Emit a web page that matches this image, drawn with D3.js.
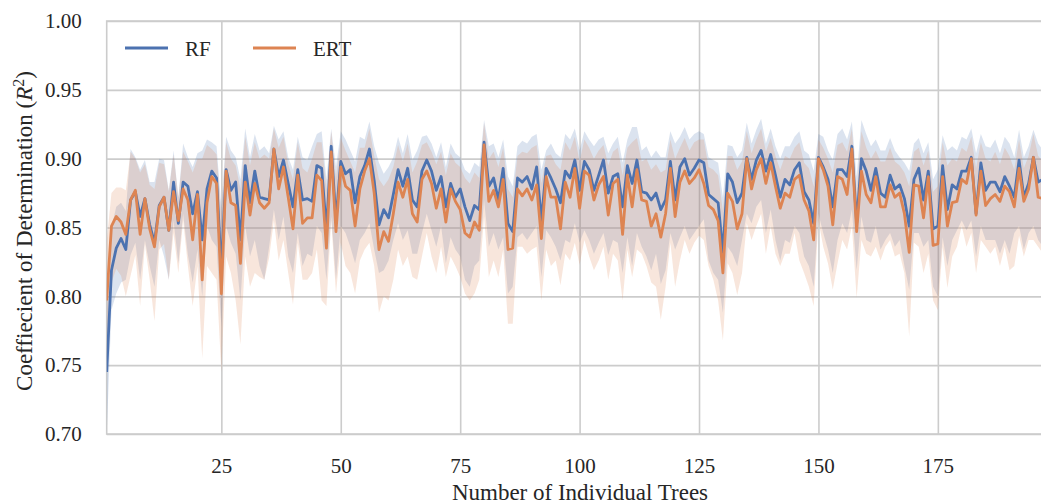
<!DOCTYPE html>
<html>
<head>
  <title>RF vs ERT</title>
  <style>
    body { margin: 0; background: #fff; }
    text { font-family: "Liberation Serif", "Times New Roman", serif; fill: #262626; }
  </style>
</head>
<body>
  <script src="https://d3js.org/d3.v7.min.js"></script>
  <script>
    // Mean R^2 per number of trees
    var rfMean = [0.745,0.819,0.835,0.842,0.834,0.870,0.876,0.858,0.871,0.852, 0.839,0.866,0.872,0.848,0.883,0.853,0.883,0.880,0.860,0.876,
      0.841,0.878,0.891,0.886,0.818,0.892,0.877,0.883,0.841,0.895, 0.868,0.891,0.872,0.871,0.870,0.907,0.887,0.899,0.882,0.865,
      0.892,0.870,0.871,0.869,0.895,0.893,0.848,0.909,0.855,0.898, 0.889,0.892,0.868,0.887,0.895,0.907,0.884,0.852,0.863,0.857,
      0.874,0.892,0.880,0.893,0.870,0.865,0.891,0.899,0.891,0.877, 0.887,0.865,0.882,0.872,0.878,0.865,0.855,0.866,0.863,0.912,
      0.880,0.886,0.870,0.893,0.853,0.847,0.886,0.883,0.887,0.878, 0.894,0.855,0.893,0.886,0.878,0.868,0.891,0.886,0.899,0.877,
      0.898,0.892,0.877,0.888,0.899,0.875,0.887,0.889,0.865,0.895, 0.882,0.899,0.876,0.875,0.870,0.875,0.863,0.870,0.898,0.870,
      0.894,0.900,0.888,0.893,0.899,0.897,0.874,0.871,0.868,0.832, 0.889,0.883,0.868,0.875,0.901,0.885,0.899,0.906,0.891,0.903,
      0.888,0.872,0.885,0.881,0.892,0.897,0.876,0.870,0.853,0.901, 0.894,0.885,0.865,0.892,0.892,0.887,0.909,0.853,0.900,0.891,
      0.877,0.893,0.875,0.872,0.888,0.878,0.881,0.871,0.851,0.885, 0.893,0.870,0.891,0.849,0.851,0.895,0.863,0.881,0.878,0.891,
      0.891,0.901,0.860,0.897,0.877,0.883,0.883,0.876,0.887,0.880, 0.872,0.899,0.872,0.882,0.901,0.883,0.885];

    var ertMean = [0.797,0.851,0.858,0.854,0.845,0.870,0.877,0.845,0.871,0.849, 0.836,0.865,0.872,0.848,0.876,0.855,0.878,0.870,0.841,0.874,
      0.812,0.868,0.887,0.882,0.802,0.891,0.868,0.866,0.824,0.883, 0.859,0.882,0.868,0.864,0.868,0.907,0.878,0.894,0.872,0.849,
      0.888,0.853,0.857,0.857,0.888,0.884,0.835,0.905,0.847,0.894, 0.880,0.877,0.851,0.878,0.891,0.900,0.875,0.834,0.847,0.840,
      0.860,0.883,0.872,0.885,0.860,0.854,0.885,0.891,0.882,0.864, 0.878,0.854,0.878,0.869,0.863,0.846,0.843,0.854,0.848,0.910,
      0.869,0.877,0.865,0.885,0.834,0.835,0.878,0.873,0.878,0.870, 0.881,0.842,0.887,0.872,0.872,0.849,0.883,0.872,0.893,0.864,
      0.891,0.888,0.870,0.881,0.887,0.859,0.882,0.885,0.845,0.888, 0.865,0.892,0.870,0.869,0.851,0.860,0.843,0.860,0.893,0.858,
      0.883,0.891,0.882,0.886,0.892,0.882,0.866,0.863,0.855,0.817, 0.875,0.869,0.849,0.860,0.900,0.878,0.892,0.900,0.882,0.897,
      0.880,0.864,0.875,0.872,0.885,0.888,0.870,0.862,0.841,0.900, 0.892,0.880,0.852,0.887,0.885,0.874,0.907,0.847,0.891,0.874,
      0.868,0.887,0.865,0.865,0.881,0.872,0.875,0.860,0.832,0.881, 0.880,0.857,0.887,0.837,0.838,0.887,0.851,0.868,0.869,0.885,
      0.882,0.900,0.859,0.891,0.866,0.871,0.874,0.869,0.880,0.876, 0.865,0.893,0.869,0.878,0.901,0.872,0.871];

    // Upper / lower edges of the shaded intervals
    var rfHi = [0.785,0.850,0.865,0.868,0.862,0.907,0.901,0.892,0.899,0.883, 0.883,0.900,0.899,0.877,0.906,0.872,0.911,0.901,0.894,0.904,
      0.906,0.914,0.912,0.909,0.865,0.916,0.906,0.901,0.885,0.922, 0.901,0.918,0.906,0.909,0.904,0.924,0.914,0.920,0.901,0.892,
      0.916,0.901,0.899,0.909,0.918,0.920,0.885,0.922,0.894,0.920, 0.914,0.906,0.898,0.916,0.914,0.927,0.909,0.897,0.889,0.894,
      0.901,0.916,0.904,0.918,0.899,0.906,0.916,0.917,0.911,0.901, 0.912,0.894,0.911,0.904,0.901,0.892,0.889,0.897,0.894,0.928,
      0.909,0.911,0.901,0.914,0.887,0.880,0.909,0.913,0.911,0.916, 0.918,0.892,0.906,0.911,0.904,0.901,0.918,0.914,0.922,0.906,
      0.920,0.914,0.909,0.914,0.916,0.904,0.911,0.916,0.897,0.914, 0.923,0.923,0.906,0.909,0.901,0.906,0.901,0.901,0.920,0.911,
      0.916,0.923,0.914,0.918,0.920,0.918,0.901,0.899,0.897,0.872, 0.910,0.909,0.901,0.906,0.926,0.911,0.921,0.929,0.911,0.922,
      0.909,0.900,0.909,0.909,0.916,0.920,0.906,0.903,0.891,0.918, 0.916,0.906,0.899,0.918,0.922,0.914,0.927,0.887,0.928,0.918,
      0.909,0.914,0.906,0.906,0.915,0.906,0.901,0.897,0.891,0.911, 0.915,0.904,0.912,0.885,0.892,0.917,0.906,0.909,0.906,0.916,
      0.914,0.922,0.904,0.918,0.909,0.908,0.914,0.904,0.916,0.911, 0.901,0.921,0.901,0.909,0.921,0.911,0.906];

    var rfLo = [0.700,0.790,0.802,0.810,0.812,0.830,0.839,0.812,0.841,0.822, 0.807,0.841,0.829,0.812,0.855,0.824,0.860,0.830,0.810,0.834,
      0.800,0.851,0.841,0.836,0.778,0.851,0.839,0.831,0.797,0.851, 0.829,0.841,0.822,0.812,0.836,0.863,0.841,0.858,0.829,0.817,
      0.846,0.822,0.831,0.829,0.851,0.846,0.812,0.858,0.812,0.851, 0.846,0.836,0.824,0.841,0.846,0.853,0.834,0.817,0.819,0.826,
      0.841,0.853,0.841,0.848,0.831,0.831,0.846,0.860,0.848,0.836, 0.851,0.824,0.843,0.834,0.829,0.812,0.807,0.822,0.826,0.870,
      0.836,0.846,0.834,0.843,0.802,0.807,0.843,0.846,0.841,0.846, 0.851,0.814,0.848,0.843,0.836,0.826,0.841,0.839,0.853,0.839,
      0.848,0.841,0.831,0.839,0.846,0.830,0.841,0.839,0.817,0.843, 0.822,0.846,0.836,0.829,0.819,0.831,0.809,0.819,0.846,0.834,
      0.843,0.851,0.841,0.846,0.851,0.856,0.826,0.817,0.812,0.788, 0.836,0.831,0.822,0.841,0.860,0.853,0.865,0.870,0.846,0.863,
      0.841,0.826,0.841,0.839,0.851,0.846,0.829,0.822,0.807,0.860, 0.846,0.834,0.817,0.841,0.853,0.846,0.863,0.819,0.858,0.841,
      0.839,0.851,0.834,0.841,0.846,0.836,0.841,0.822,0.805,0.846, 0.846,0.836,0.841,0.807,0.800,0.843,0.822,0.841,0.848,0.855,
      0.848,0.855,0.829,0.851,0.841,0.841,0.841,0.831,0.841,0.831, 0.846,0.851,0.834,0.846,0.851,0.841,0.836];

    var ertHi = [0.840,0.875,0.879,0.879,0.877,0.905,0.900,0.890,0.896,0.881, 0.878,0.897,0.896,0.876,0.903,0.872,0.905,0.898,0.890,0.900,
      0.900,0.910,0.907,0.903,0.860,0.912,0.900,0.895,0.878,0.916, 0.895,0.912,0.900,0.903,0.900,0.922,0.908,0.916,0.896,0.885,
      0.912,0.893,0.890,0.900,0.912,0.912,0.878,0.920,0.886,0.915, 0.906,0.898,0.890,0.908,0.908,0.922,0.902,0.885,0.880,0.885,
      0.894,0.910,0.898,0.911,0.890,0.898,0.910,0.912,0.905,0.896, 0.905,0.888,0.904,0.897,0.894,0.886,0.882,0.890,0.886,0.926,
      0.900,0.905,0.894,0.908,0.878,0.872,0.902,0.905,0.904,0.908, 0.910,0.882,0.902,0.903,0.896,0.892,0.912,0.906,0.916,0.898,
      0.914,0.908,0.900,0.906,0.910,0.895,0.905,0.908,0.888,0.908, 0.912,0.915,0.898,0.900,0.892,0.896,0.890,0.892,0.914,0.900,
      0.908,0.915,0.906,0.912,0.914,0.914,0.894,0.892,0.888,0.862, 0.902,0.902,0.892,0.898,0.920,0.904,0.914,0.922,0.905,0.915,
      0.902,0.892,0.902,0.900,0.908,0.912,0.897,0.893,0.880,0.914, 0.908,0.900,0.890,0.910,0.912,0.905,0.922,0.876,0.920,0.908,
      0.900,0.906,0.898,0.898,0.908,0.898,0.895,0.890,0.880,0.905, 0.908,0.895,0.906,0.876,0.880,0.912,0.895,0.900,0.898,0.908,
      0.905,0.916,0.893,0.912,0.900,0.898,0.905,0.896,0.908,0.902, 0.892,0.914,0.893,0.902,0.918,0.902,0.898];

    var ertLo = [0.755,0.810,0.820,0.815,0.800,0.815,0.830,0.793,0.838,0.812, 0.782,0.834,0.838,0.812,0.846,0.817,0.855,0.822,0.793,0.822,
      0.755,0.822,0.817,0.812,0.745,0.829,0.817,0.797,0.765,0.829, 0.807,0.817,0.814,0.812,0.828,0.855,0.826,0.841,0.817,0.794,
      0.839,0.812,0.812,0.817,0.834,0.797,0.793,0.855,0.802,0.839, 0.822,0.817,0.802,0.826,0.834,0.839,0.822,0.788,0.800,0.797,
      0.812,0.834,0.822,0.829,0.814,0.812,0.829,0.846,0.829,0.817, 0.836,0.814,0.829,0.822,0.814,0.802,0.797,0.802,0.812,0.858,
      0.814,0.826,0.814,0.834,0.780,0.780,0.836,0.836,0.831,0.834, 0.836,0.797,0.834,0.822,0.826,0.808,0.831,0.826,0.839,0.823,
      0.841,0.829,0.819,0.826,0.836,0.812,0.831,0.826,0.797,0.834, 0.814,0.834,0.831,0.822,0.810,0.807,0.783,0.807,0.839,0.807,
      0.826,0.841,0.831,0.839,0.844,0.841,0.822,0.812,0.797,0.768, 0.824,0.817,0.801,0.817,0.853,0.841,0.851,0.860,0.831,0.851,
      0.831,0.822,0.831,0.831,0.846,0.826,0.817,0.807,0.793,0.855, 0.836,0.824,0.805,0.824,0.841,0.834,0.851,0.799,0.841,0.831,
      0.829,0.836,0.826,0.836,0.841,0.829,0.831,0.817,0.771,0.839, 0.836,0.817,0.831,0.797,0.790,0.836,0.806,0.829,0.836,0.851,
      0.836,0.846,0.817,0.841,0.836,0.831,0.836,0.822,0.836,0.819, 0.822,0.844,0.829,0.841,0.841,0.836,0.831];

    var trees = d3.range(1, rfMean.length + 1);
    var yTicks = [0.70, 0.75, 0.80, 0.85, 0.90, 0.95, 1.00];
    var xTicks = [25, 50, 75, 100, 125, 150, 175];

    var series = [
      { name: "RF", color: "#4c72b0", mean: rfMean, lo: rfLo, hi: rfHi },
      { name: "ERT", color: "#dd8452", mean: ertMean, lo: ertLo, hi: ertHi }
    ];

    var W = 1041, H = 504;
    // plot box (right edge runs past the picture, as in the source figure)
    var plotL = 106.7, plotT = 21, plotB = 434, plotR = 1052.5;

    var svg = d3.select("body").append("svg")
      .attr("width", W).attr("height", H);

    var x = d3.scaleLinear().domain([1, 199]).range([plotL, plotR]);
    var y = d3.scaleLinear().domain([0.70, 1.00]).range([plotB, plotT]);

    // grid
    var gy = svg.append("g")
      .attr("transform", "translate(" + plotL + ",0)")
      .call(d3.axisLeft(y).tickValues(yTicks).tickFormat(d3.format(".2f"))
        .tickSize(-(plotR - plotL)).tickPadding(25));
    var gx = svg.append("g")
      .attr("transform", "translate(0," + plotB + ")")
      .call(d3.axisBottom(x).tickValues(xTicks)
        .tickSize(-(plotB - plotT)).tickPadding(24));
    [gx, gy].forEach(function (g) {
      g.select(".domain").remove();
      g.selectAll("line").attr("stroke", "#cccccc").attr("stroke-width", 1.6);
      g.selectAll("text").style("font-size", "21px")
        .style("font-family", '"Liberation Serif", serif').attr("fill", "#262626");
    });

    svg.append("rect")
      .attr("x", plotL).attr("y", plotT)
      .attr("width", plotR - plotL).attr("height", plotB - plotT)
      .attr("fill", "none").attr("stroke", "#cccccc").attr("stroke-width", 1.6);

    svg.append("clipPath").attr("id", "plot")
      .append("rect").attr("x", plotL).attr("y", plotT)
      .attr("width", plotR - plotL).attr("height", plotB - plotT);

    var plot = svg.append("g").attr("clip-path", "url(#plot)");

    var meanLine = d3.line()
      .x(function (d, i) { return x(trees[i]); })
      .y(function (d) { return y(d); });

    // bands first, then the mean lines on top
    series.forEach(function (s) {
      var area = d3.area()
        .x(function (d, i) { return x(trees[i]); })
        .y0(function (d, i) { return y(s.lo[i]); })
        .y1(function (d, i) { return y(s.hi[i]); });
      plot.append("path").datum(s.mean)
        .attr("d", area)
        .attr("fill", s.color).attr("fill-opacity", 0.2).attr("stroke", "none");
    });
    series.forEach(function (s) {
      plot.append("path").datum(s.mean)
        .attr("d", meanLine)
        .attr("fill", "none").attr("stroke", s.color)
        .attr("stroke-width", 2.8).attr("stroke-linejoin", "round");
    });

    // legend
    var legend = svg.append("g");
    var legX = [125, 253];
    series.forEach(function (s, i) {
      legend.append("line")
        .attr("x1", legX[i]).attr("x2", legX[i] + 43)
        .attr("y1", 48).attr("y2", 48)
        .attr("stroke", s.color).attr("stroke-width", 2.8);
      legend.append("text")
        .attr("x", legX[i] + 60).attr("y", 55.5)
        .style("font-size", "21px")
        .text(s.name);
    });

    // axis labels
    svg.append("text")
      .attr("x", 580).attr("y", 500)
      .attr("text-anchor", "middle")
      .style("font-size", "23px")
      .text("Number of Individual Trees");

    var yl = svg.append("text")
      .attr("transform", "translate(24,231) rotate(-90)")
      .attr("dy", "0.35em")
      .attr("text-anchor", "middle")
      .style("font-size", "23px");
    yl.append("tspan").text("Coeffiecient of Determination (");
    yl.append("tspan").style("font-style", "italic").text("R");
    yl.append("tspan").attr("dy", -8).style("font-size", "16px").text("2");
    yl.append("tspan").attr("dy", 8).text(")");
  </script>
</body>
</html>
